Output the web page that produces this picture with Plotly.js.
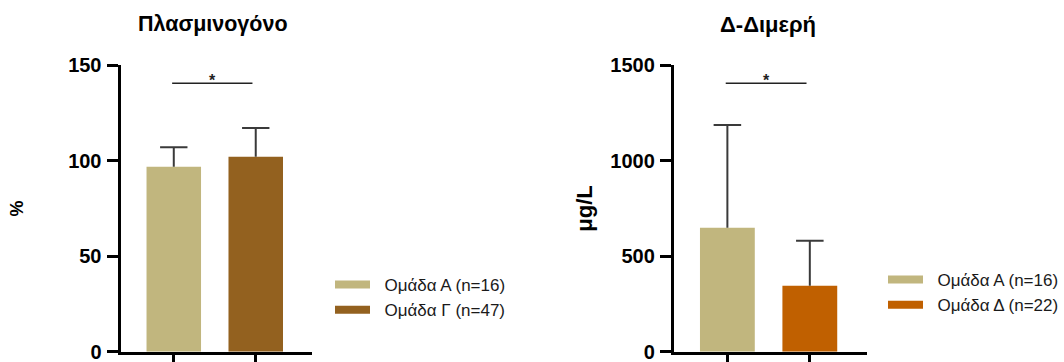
<!DOCTYPE html>
<html>
<head>
<meta charset="utf-8">
<script src="https://cdn.plot.ly/plotly-3.0.1.min.js"></script>
<style>html,body{margin:0;padding:0;background:#fff;}#chart{width:1064px;height:362px;}</style>
</head>
<body>
<div id="chart"></div>
<script>
// ---- data ----
const plasTitle = 'Πλασμινογόνο';
const plasUnit = '%';
const plasGroups = ['Ομάδα Α (n=16)', 'Ομάδα Γ (n=47)'];
const plasMeans = [96.8, 102.0];
const plasSD = [10.2, 15.0];
const plasTicks = [0, 50, 100, 150];

const dimerTitle = 'Δ-Διμερή';
const dimerUnit = 'μg/L';
const dimerGroups = ['Ομάδα Α (n=16)', 'Ομάδα Δ (n=22)'];
const dimerMeans = [649, 346];
const dimerSD = [537, 235];
const dimerTicks = [0, 500, 1000, 1500];

const plasColors = ['#C1B67E', '#93611F'];
const dimerColors = ['#C1B67E', '#C06000'];
const sigLabel = '*';

// ---- styling ----
const FONT = 'Arial, "Liberation Sans", sans-serif';
const W = 1064, H = 362;
const yDom = [(H - 351.8) / H, (H - 65) / H];
const xDomL = [120.5 / W, 312.3 / W];
const xDomR = [673.8 / W, 866.7 / W];
const xRange = [-0.65, 1.69];
const barW = 0.665;
const capHalf = 0.167;
const NB = '\u00A0\u00A0';

function makeBars(groups, means, colors, xa, ya) {
  return groups.map((g, i) => ({
    type: 'bar', x: [i], y: [means[i]], width: barW,
    marker: {color: colors[i]}, xaxis: xa, yaxis: ya,
    showlegend: false, hoverinfo: 'skip'
  }));
}
function makeErr(means, sd, xa, ya) {
  const x = [], y = [];
  means.forEach((m, i) => {
    x.push(i, i, null, i - capHalf, i + capHalf, null);
    y.push(m, m + sd[i], null, m + sd[i], m + sd[i], null);
  });
  return {type: 'scatter', mode: 'lines', x, y, xaxis: xa, yaxis: ya,
    line: {color: '#3a3a3a', width: 2}, showlegend: false, hoverinfo: 'skip'};
}
function makeLegend(groups, colors, legend, xa, ya) {
  return groups.map((g, i) => ({
    type: 'scatter', mode: 'lines', x: [null], y: [null], name: NB + g,
    line: {color: colors[i], width: 8}, legend: legend,
    xaxis: xa, yaxis: ya
  }));
}

const data = [].concat(
  makeBars(plasGroups, plasMeans, plasColors, 'x', 'y'),
  makeErr(plasMeans, plasSD, 'x', 'y'),
  makeBars(dimerGroups, dimerMeans, dimerColors, 'x2', 'y2'),
  makeErr(dimerMeans, dimerSD, 'x2', 'y2'),
  makeLegend(plasGroups, plasColors, 'legend', 'x', 'y'),
  makeLegend(dimerGroups, dimerColors, 'legend2', 'x2', 'y2')
);

function xAxis(dom, anchor) {
  return {domain: dom, anchor: anchor, range: xRange, fixedrange: true,
    showline: true, linewidth: 3, linecolor: '#000', showgrid: false, zeroline: false,
    ticks: 'outside', ticklen: 12, tickwidth: 3, tickcolor: '#000',
    tickvals: [0, 1], showticklabels: false};
}
function yAxis(ticks, anchor, title, tsize, standoff) {
  return {domain: yDom, anchor: anchor, range: [0, ticks[ticks.length - 1]], fixedrange: true,
    showline: true, linewidth: 3, linecolor: '#000', showgrid: false, zeroline: false,
    ticks: 'outside', ticklen: 11, tickwidth: 3, tickcolor: '#000',
    tickvals: ticks, ticktext: ticks.map(String), ticklabeloverflow: 'allow', ticklabelstandoff: 1,
    tickfont: {family: FONT, size: 20, color: '#000', weight: 'bold'},
    title: {text: '<b>' + title + '</b>', font: {family: FONT, size: tsize, color: '#000'}, standoff: standoff}};
}
function legendCfg(x, y) {
  return {x: x, y: y, xanchor: 'left', yanchor: 'top', bgcolor: 'rgba(0,0,0,0)',
    borderwidth: 0, itemwidth: 35,
    font: {family: FONT, size: 17, color: '#1a1a1a'}, itemclick: false, itemdoubleclick: false};
}

const layout = {
  width: W, height: H, margin: {l: 0, r: 0, t: 0, b: 0},
  paper_bgcolor: '#fff', plot_bgcolor: '#fff',
  barmode: 'overlay', showlegend: true,
  xaxis: xAxis(xDomL, 'y'), yaxis: yAxis(plasTicks, 'x', plasUnit, 18, 40),
  xaxis2: xAxis(xDomR, 'y2'), yaxis2: yAxis(dimerTicks, 'x2', dimerUnit, 22, 12),
  legend: legendCfg(330 / W, (H - 267) / H),
  legend2: legendCfg(883.3 / W, (H - 262) / H),
  shapes: [
    {type: 'line', xref: 'x', yref: 'y', x0: -0.02, x1: 0.96, y0: 140.4, y1: 140.4, line: {color: '#222', width: 1.5}},
    {type: 'line', xref: 'x2', yref: 'y2', x0: -0.02, x1: 0.96, y0: 1404, y1: 1404, line: {color: '#222', width: 1.5}}
  ],
  annotations: [
    {xref: 'paper', yref: 'paper', x: 212.7 / W, y: (H - 24) / H, xanchor: 'center', yanchor: 'middle',
     text: '<b>' + plasTitle + '</b>', showarrow: false, font: {family: FONT, size: 21.5, color: '#000'}},
    {xref: 'paper', yref: 'paper', x: 768.3 / W, y: (H - 25) / H, xanchor: 'center', yanchor: 'middle',
     text: '<b>' + dimerTitle + '</b>', showarrow: false, font: {family: FONT, size: 22, color: '#000'}},
    {xref: 'x', yref: 'y', x: 0.47, y: 140.4, xanchor: 'center', yanchor: 'middle', yshift: 3,
     text: '<b>' + sigLabel + '</b>', showarrow: false, font: {family: FONT, size: 16, color: '#222'}},
    {xref: 'x2', yref: 'y2', x: 0.47, y: 1404, xanchor: 'center', yanchor: 'middle', yshift: 3,
     text: '<b>' + sigLabel + '</b>', showarrow: false, font: {family: FONT, size: 16, color: '#222'}}
  ]
};

Plotly.newPlot('chart', data, layout, {staticPlot: true, displayModeBar: false});
</script>
</body>
</html>
